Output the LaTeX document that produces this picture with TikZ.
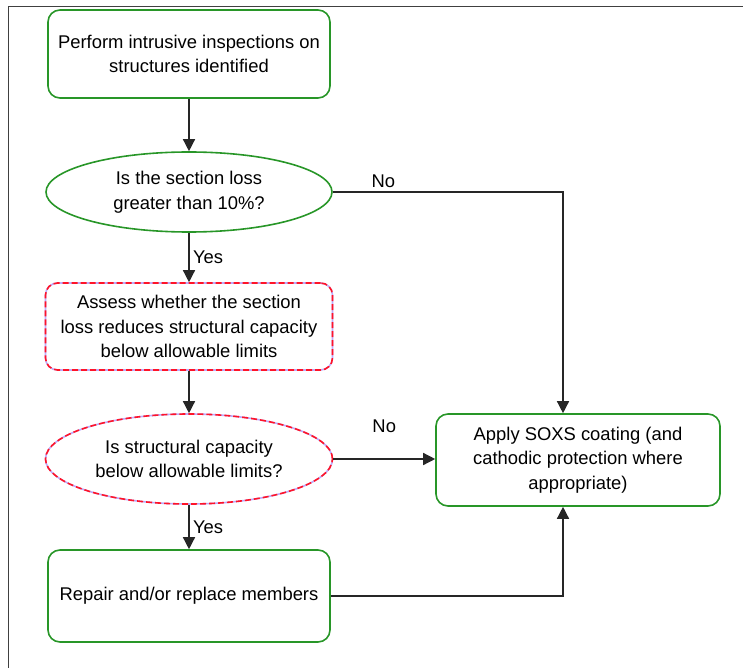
\documentclass[tikz,border=0pt]{standalone}
\usepackage{fontspec}
\setmainfont{Liberation Sans}
\usetikzlibrary{shapes.geometric,arrows.meta}
\definecolor{boxgreen}{RGB}{40,150,40}
\definecolor{checklilac}{RGB}{190,170,250}
\definecolor{checkred}{RGB}{255,20,40}
\begin{document}
\begin{tikzpicture}[x=1pt,y=1pt,
  every node/.style={font=\fontsize{18.4}{24.5}\selectfont, align=center},
  stepbox/.style={draw=boxgreen, line width=1.6pt, rounded corners=12pt,
    minimum width=282pt, minimum height=88pt, inner sep=0pt},
  askshape/.style={ellipse, draw=boxgreen, line width=1.6pt,
    minimum width=286pt, minimum height=80pt, inner sep=0pt},
  checkline/.style={draw=checkred, line width=1.6pt, dash pattern=on 6pt off 3pt,
    preaction={draw=checklilac, solid, line width=1.6pt}},
  flow/.style={draw=black!85, line width=1.4pt, -{Triangle[length=12pt,width=12pt]}}]
  \useasboundingbox (0,0) rectangle (743,-668);
  \draw[black!75, line width=1pt]
    (8,-668) -- (8,-7) -- (743,-7);
  \node[stepbox] (perform) at (189,-54)
    {Perform intrusive inspections on\\structures identified};
  \node[askshape] (lossq) at (189,-192)
    {Is the section loss\\greater than 10\%?};
  \node[stepbox, checkline, minimum width=287pt, minimum height=87pt] (assess) at (189,-326.5)
    {Assess whether the section\\loss reduces structural capacity\\below allowable limits};
  \node[askshape, checkline, minimum width=287pt, minimum height=90pt] (capq) at (189,-459)
    {Is structural capacity\\below allowable limits?};
  \node[stepbox, minimum height=92pt] (repair) at (189,-596)
    {Repair and/or replace members};
  \node[stepbox, minimum width=284pt, minimum height=92pt] (coat) at (578,-460)
    {Apply SOXS coating (and\\cathodic protection where\\appropriate)};
  \draw[flow]
    (perform)
    --
    (lossq);
  \draw[flow]
    (lossq)
    -- node[right] {Yes}
    (assess);
  \draw[flow]
    (assess)
    --
    (capq);
  \draw[flow]
    (capq)
    -- node[right] {Yes}
    (repair);
  \draw[flow]
    (lossq.east)
    -| node[pos=0.11, above=3pt, inner sep=1pt] {No}
    ([xshift=-15pt]coat.north);
  \draw[flow]
    (capq.east)
    -- node[above=22pt] {No}
    (capq.east -| coat.west);
  \draw[flow]
    (repair.east)
    -|
    ([xshift=-15pt]coat.south);
\end{tikzpicture}
\end{document}
